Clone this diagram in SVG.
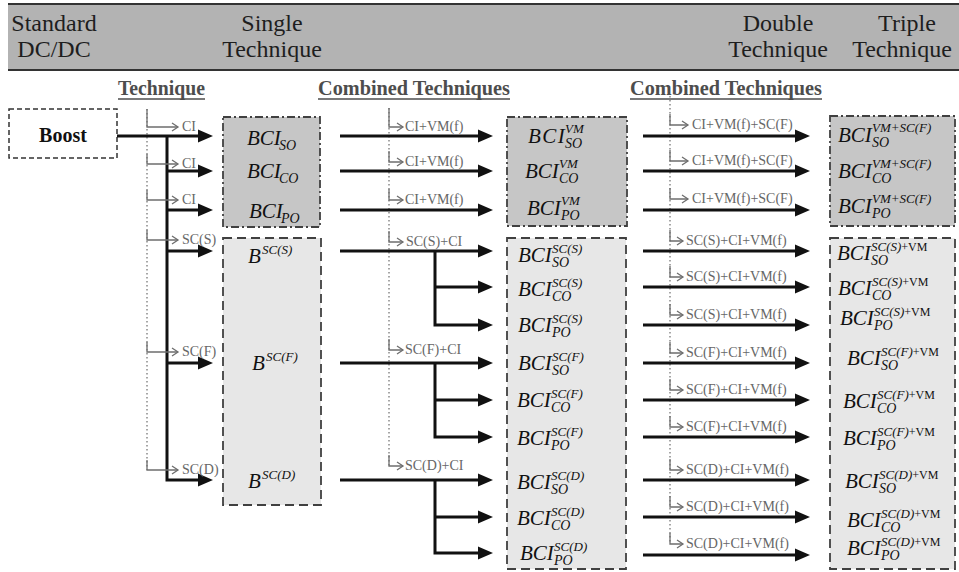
<svg xmlns="http://www.w3.org/2000/svg" width="959" height="572" viewBox="0 0 959 572">
  <style>
    text { font-family: "Liberation Serif", "Times New Roman", serif; }
    .hd { font-size: 24px; fill: #1e1e1e; text-anchor: middle; }
    .sh { font-size: 22px; font-weight: bold; fill: #4d4d4d; }
    .ul { stroke: #4d4d4d; stroke-width: 1.5; }
    .lb { font-size: 14px; fill: #666; }
    .m { font-size: 21px; font-style: italic; fill: #111; }
    .sp { font-size: 13px; }
    .sb { font-size: 14px; }
    .up { font-style: normal; font-size: 12px; }
    .ar { stroke: #111; stroke-width: 3; fill: none; marker-end: url(#ah); }
    .hk { stroke: #6e6e6e; stroke-width: 1.3; fill: none; marker-end: url(#ch); }
    .dt { stroke: #777; stroke-width: 1.3; stroke-dasharray: 1.5 2.5; fill: none; }
    .dd { fill: #c6c6c6; stroke: #404040; stroke-width: 1.8; stroke-dasharray: 8 3 2 3; }
    .ds { fill: #e7e7e7; stroke: #404040; stroke-width: 1.8; stroke-dasharray: 9 5; }
    .bx { fill: #fff; stroke: #333; stroke-width: 1.5; stroke-dasharray: 5 3; }
  </style>
  <defs>
    <marker id="ah" markerUnits="userSpaceOnUse" markerWidth="16" markerHeight="14" refX="0" refY="7" orient="auto" overflow="visible">
      <path d="M0,0.5 L15,7 L0,13.5 Z" fill="#111"/>
    </marker>
    <marker id="ch" markerUnits="userSpaceOnUse" markerWidth="8" markerHeight="10" refX="6" refY="4" orient="auto" overflow="visible">
      <path d="M0,0 L6,4 L0,8" fill="none" stroke="#6e6e6e" stroke-width="1.3"/>
    </marker>
  </defs>

  <!-- header band -->
  <g id="header">
    <rect x="8" y="4" width="960" height="66" fill="#b3b3b3"/>
    <line x1="8" y1="4" x2="959" y2="4" stroke="#333" stroke-width="2"/>
    <line x1="8" y1="70" x2="959" y2="70" stroke="#333" stroke-width="2"/>
    <text class="hd" x="54" y="31">Standard</text>
    <text class="hd" x="54" y="57">DC/DC</text>
    <text class="hd" x="272" y="31">Single</text>
    <text class="hd" x="272" y="57">Technique</text>
    <text class="hd" x="778" y="31">Double</text>
    <text class="hd" x="778" y="57">Technique</text>
    <text class="hd" x="907" y="31">Triple</text>
    <text class="hd" x="902" y="57">Technique</text>
  </g>

  <!-- column subheadings -->
  <g id="subheads">
    <text class="sh" x="118" y="95" textLength="87" lengthAdjust="spacingAndGlyphs">Technique</text>
    <line class="ul" x1="118" y1="99" x2="205" y2="99"/>
    <text class="sh" x="318" y="95" textLength="192" lengthAdjust="spacingAndGlyphs">Combined Techniques</text>
    <line class="ul" x1="318" y1="99" x2="510" y2="99"/>
    <text class="sh" x="630" y="95" textLength="192" lengthAdjust="spacingAndGlyphs">Combined Techniques</text>
    <line class="ul" x1="630" y1="99" x2="822" y2="99"/>
  </g>

  <!-- nodes -->
  <g id="boost">
    <rect class="bx" x="9" y="109" width="108" height="49"/>
    <text x="63" y="142" font-size="20" font-weight="bold" text-anchor="middle" fill="#111">Boost</text>
  </g>

  <g id="single-ci">
    <rect class="dd" x="223" y="117" width="97" height="110"/>
    <text class="m" x="247" y="145">BCI<tspan class="sb" x="279" y="150">SO</tspan></text>
    <text class="m" x="247" y="178">BCI<tspan class="sb" x="279" y="183">CO</tspan></text>
    <text class="m" x="249" y="218">BCI<tspan class="sb" x="281" y="223">PO</tspan></text>
  </g>

  <g id="single-sc">
    <rect class="ds" x="223" y="238" width="98" height="267"/>
    <text class="m" x="248" y="263">B<tspan class="sp" x="262" y="254">SC(S)</tspan></text>
    <text class="m" x="252" y="370">B<tspan class="sp" x="266" y="361">SC(F)</tspan></text>
    <text class="m" x="248" y="488">B<tspan class="sp" x="262" y="479">SC(D)</tspan></text>
  </g>

  <g id="double-vm">
    <rect class="dd" x="507" y="117" width="120" height="109"/>
    <text class="m" x="528" y="143" letter-spacing="1.5">BCI<tspan class="sp" letter-spacing="0" x="565" y="133">VM</tspan><tspan class="sb" letter-spacing="0" x="565" y="148">SO</tspan></text>
    <text class="m" x="525" y="178">BCI<tspan class="sp" x="559" y="168">VM</tspan><tspan class="sb" x="559" y="183">CO</tspan></text>
    <text class="m" x="527" y="215">BCI<tspan class="sp" x="561" y="205">VM</tspan><tspan class="sb" x="561" y="220">PO</tspan></text>
  </g>

  <g id="double-sc">
    <rect class="ds" x="507" y="238" width="119" height="331"/>
    <text class="m" x="518" y="262">BCI<tspan class="sp" x="552" y="253">SC(S)</tspan><tspan class="sb" x="552" y="267">SO</tspan></text>
    <text class="m" x="518" y="296">BCI<tspan class="sp" x="552" y="287">SC(S)</tspan><tspan class="sb" x="552" y="301">CO</tspan></text>
    <text class="m" x="518" y="332">BCI<tspan class="sp" x="552" y="323">SC(S)</tspan><tspan class="sb" x="552" y="337">PO</tspan></text>
    <text class="m" x="518" y="370">BCI<tspan class="sp" x="552" y="361">SC(F)</tspan><tspan class="sb" x="552" y="375">SO</tspan></text>
    <text class="m" x="517" y="407">BCI<tspan class="sp" x="551" y="398">SC(F)</tspan><tspan class="sb" x="551" y="412">CO</tspan></text>
    <text class="m" x="517" y="445">BCI<tspan class="sp" x="551" y="436">SC(F)</tspan><tspan class="sb" x="551" y="450">PO</tspan></text>
    <text class="m" x="517" y="489">BCI<tspan class="sp" x="551" y="480">SC(D)</tspan><tspan class="sb" x="551" y="494">SO</tspan></text>
    <text class="m" x="517" y="525">BCI<tspan class="sp" x="551" y="516">SC(D)</tspan><tspan class="sb" x="551" y="530">CO</tspan></text>
    <text class="m" x="520" y="560">BCI<tspan class="sp" x="554" y="551">SC(D)</tspan><tspan class="sb" x="554" y="565">PO</tspan></text>
  </g>

  <g id="triple-vm">
    <rect class="dd" x="830" y="116" width="125" height="110"/>
    <text class="m" x="838" y="142">BCI<tspan class="sp" x="872" y="132">VM+SC(F)</tspan><tspan class="sb" x="872" y="147">SO</tspan></text>
    <text class="m" x="838" y="178">BCI<tspan class="sp" x="872" y="168">VM+SC(F)</tspan><tspan class="sb" x="872" y="183">CO</tspan></text>
    <text class="m" x="838" y="213">BCI<tspan class="sp" x="872" y="203">VM+SC(F)</tspan><tspan class="sb" x="872" y="218">PO</tspan></text>
  </g>

  <g id="triple-sc">
    <rect class="ds" x="830" y="238" width="125" height="331"/>
    <text class="m" x="837" y="260">BCI<tspan class="sp" x="871" y="251">SC(S)<tspan class="up">+VM</tspan></tspan><tspan class="sb" x="871" y="265">SO</tspan></text>
    <text class="m" x="838" y="295">BCI<tspan class="sp" x="872" y="286">SC(S)<tspan class="up">+VM</tspan></tspan><tspan class="sb" x="872" y="300">CO</tspan></text>
    <text class="m" x="840" y="325">BCI<tspan class="sp" x="874" y="316">SC(S)<tspan class="up">+VM</tspan></tspan><tspan class="sb" x="874" y="330">PO</tspan></text>
    <text class="m" x="847" y="365">BCI<tspan class="sp" x="881" y="356">SC(F)<tspan class="up">+VM</tspan></tspan><tspan class="sb" x="881" y="370">SO</tspan></text>
    <text class="m" x="843" y="408">BCI<tspan class="sp" x="877" y="399">SC(F)<tspan class="up">+VM</tspan></tspan><tspan class="sb" x="877" y="413">CO</tspan></text>
    <text class="m" x="843" y="445">BCI<tspan class="sp" x="877" y="436">SC(F)<tspan class="up">+VM</tspan></tspan><tspan class="sb" x="877" y="450">PO</tspan></text>
    <text class="m" x="845" y="488">BCI<tspan class="sp" x="879" y="479">SC(D)<tspan class="up">+VM</tspan></tspan><tspan class="sb" x="879" y="493">SO</tspan></text>
    <text class="m" x="847" y="527">BCI<tspan class="sp" x="881" y="518">SC(D)<tspan class="up">+VM</tspan></tspan><tspan class="sb" x="881" y="532">CO</tspan></text>
    <text class="m" x="847" y="555">BCI<tspan class="sp" x="881" y="546">SC(D)<tspan class="up">+VM</tspan></tspan><tspan class="sb" x="881" y="560">PO</tspan></text>
  </g>

  <!-- connectors -->
  <g id="connectors">
    <!-- technique guide lines -->
    <line class="dt" x1="147" y1="109" x2="147" y2="470"/>
    <line class="dt" x1="389" y1="108" x2="389" y2="466"/>
    <line class="dt" x1="670" y1="96" x2="670" y2="544"/>

    <!-- single technique branch -->
    <line class="ar" x1="117" y1="136" x2="198" y2="136"/>
    <path class="ar" d="M167,136 V480 H198"/>
    <line class="ar" x1="167" y1="171" x2="198" y2="171"/>
    <line class="ar" x1="167" y1="210" x2="198" y2="210"/>
    <line class="ar" x1="167" y1="251" x2="198" y2="251"/>
    <line class="ar" x1="167" y1="363" x2="198" y2="363"/>

    <!-- double technique branch -->
    <line class="ar" x1="340" y1="136" x2="478" y2="136"/>
    <line class="ar" x1="340" y1="171" x2="478" y2="171"/>
    <line class="ar" x1="340" y1="210" x2="478" y2="210"/>
    <line class="ar" x1="340" y1="251" x2="478" y2="251"/>
    <path class="ar" d="M435,251 V325 H478"/>
    <line class="ar" x1="435" y1="287" x2="478" y2="287"/>
    <line class="ar" x1="340" y1="363" x2="478" y2="363"/>
    <path class="ar" d="M435,363 V437 H478"/>
    <line class="ar" x1="435" y1="400" x2="478" y2="400"/>
    <line class="ar" x1="340" y1="480" x2="478" y2="480"/>
    <path class="ar" d="M435,480 V553 H478"/>
    <line class="ar" x1="435" y1="517" x2="478" y2="517"/>

    <!-- triple technique branch -->
    <line class="ar" x1="643" y1="136" x2="795" y2="136"/>
    <line class="ar" x1="643" y1="171" x2="795" y2="171"/>
    <line class="ar" x1="643" y1="210" x2="795" y2="210"/>
    <line class="ar" x1="643" y1="251" x2="795" y2="251"/>
    <line class="ar" x1="643" y1="287" x2="795" y2="287"/>
    <line class="ar" x1="643" y1="325" x2="795" y2="325"/>
    <line class="ar" x1="643" y1="363" x2="795" y2="363"/>
    <line class="ar" x1="643" y1="400" x2="795" y2="400"/>
    <line class="ar" x1="643" y1="437" x2="795" y2="437"/>
    <line class="ar" x1="643" y1="480" x2="795" y2="480"/>
    <line class="ar" x1="643" y1="517" x2="795" y2="517"/>
    <line class="ar" x1="643" y1="555" x2="795" y2="555"/>

    <!-- technique hooks: single -->
    <path class="hk" d="M147,109 V127 H178"/>
    <path class="hk" d="M147,154 V164 H178"/>
    <path class="hk" d="M147,190 V200 H178"/>
    <path class="hk" d="M147,230 V240 H178"/>
    <path class="hk" d="M147,342 V352 H178"/>
    <path class="hk" d="M147,460 V470 H178"/>
    <text class="lb" x="182" y="131">CI</text>
    <text class="lb" x="182" y="168">CI</text>
    <text class="lb" x="182" y="204">CI</text>
    <text class="lb" x="182" y="244">SC(S)</text>
    <text class="lb" x="182" y="356">SC(F)</text>
    <text class="lb" x="182" y="474">SC(D)</text>

    <!-- technique hooks: double -->
    <path class="hk" d="M389,108 V127 H403"/>
    <path class="hk" d="M389,151 V162 H403"/>
    <path class="hk" d="M389,189 V200 H403"/>
    <path class="hk" d="M389,231 V242 H403"/>
    <path class="hk" d="M389,339 V350 H403"/>
    <path class="hk" d="M389,455 V466 H403"/>
    <text class="lb" x="405" y="131">CI+VM(f)</text>
    <text class="lb" x="405" y="166">CI+VM(f)</text>
    <text class="lb" x="405" y="204">CI+VM(f)</text>
    <text class="lb" x="406" y="246">SC(S)+CI</text>
    <text class="lb" x="405" y="354">SC(F)+CI</text>
    <text class="lb" x="405" y="470">SC(D)+CI</text>

    <!-- technique hooks: triple -->
    <path class="hk" d="M670,114 V125 H688"/>
    <path class="hk" d="M670,150 V161 H688"/>
    <path class="hk" d="M670,188 V199 H688"/>
    <path class="hk" d="M670,230 V241 H683"/>
    <path class="hk" d="M670,266 V277 H683"/>
    <path class="hk" d="M670,304 V315 H683"/>
    <path class="hk" d="M670,342 V353 H683"/>
    <path class="hk" d="M670,379 V390 H683"/>
    <path class="hk" d="M670,416 V427 H683"/>
    <path class="hk" d="M670,459 V470 H683"/>
    <path class="hk" d="M670,496 V507 H683"/>
    <path class="hk" d="M670,533 V544 H683"/>
    <text class="lb" x="692" y="129">CI+VM(f)+SC(F)</text>
    <text class="lb" x="692" y="165">CI+VM(f)+SC(F)</text>
    <text class="lb" x="692" y="203">CI+VM(f)+SC(F)</text>
    <text class="lb" x="686" y="245">SC(S)+CI+VM(f)</text>
    <text class="lb" x="686" y="281">SC(S)+CI+VM(f)</text>
    <text class="lb" x="686" y="319">SC(S)+CI+VM(f)</text>
    <text class="lb" x="686" y="357">SC(F)+CI+VM(f)</text>
    <text class="lb" x="686" y="394">SC(F)+CI+VM(f)</text>
    <text class="lb" x="686" y="431">SC(F)+CI+VM(f)</text>
    <text class="lb" x="686" y="474">SC(D)+CI+VM(f)</text>
    <text class="lb" x="686" y="511">SC(D)+CI+VM(f)</text>
    <text class="lb" x="686" y="548">SC(D)+CI+VM(f)</text>
  </g>
</svg>
